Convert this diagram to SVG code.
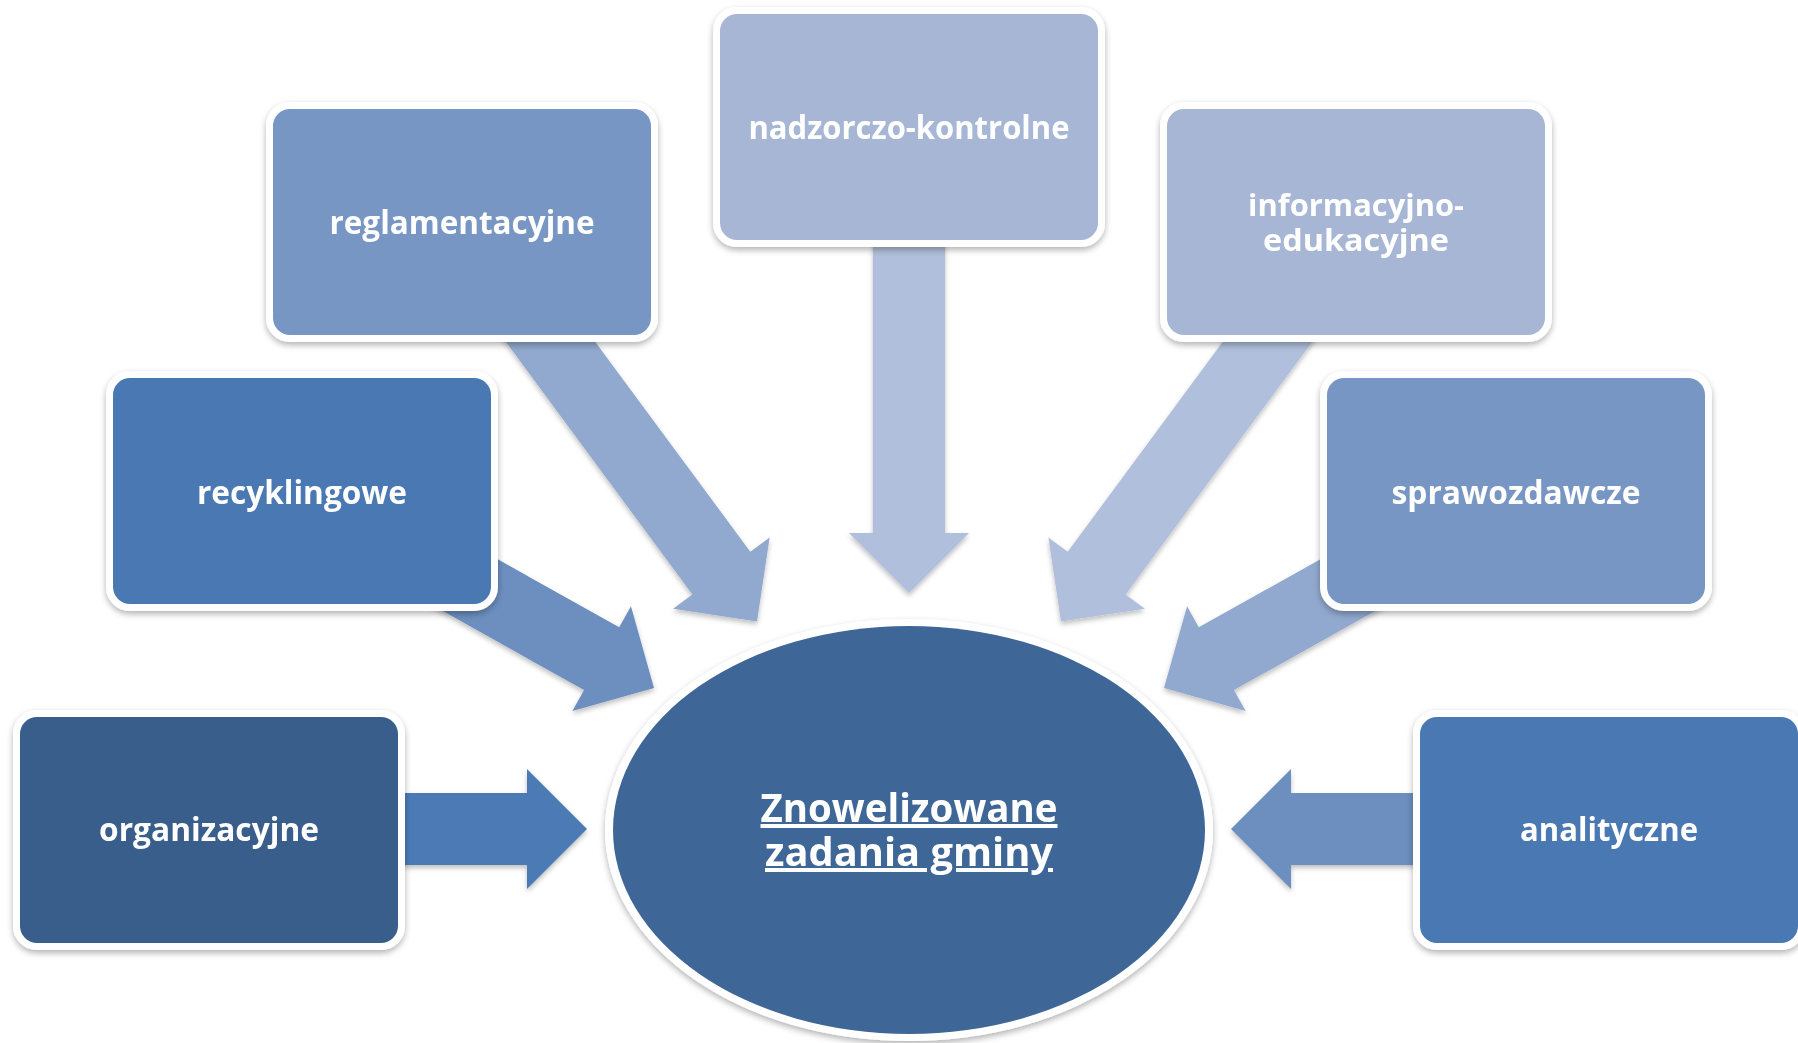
<svg xmlns="http://www.w3.org/2000/svg" width="1798" height="1043" viewBox="0 0 1798 1043">
  <style>
    .lbl { font-family: "Open Sans", "Liberation Sans", sans-serif; font-weight: 700; font-size: 32px; fill: #ffffff; text-anchor: middle; }
    .two { font-size: 30px; }
    .main { font-family: "Open Sans", "Liberation Sans", sans-serif; font-weight: 700; font-size: 40px; fill: #ffffff; text-anchor: middle; text-decoration: underline; }
    .frame { fill: #ffffff; filter: url(#sh); }
    .c1 { fill: #3a5e8c; }
    .c2 { fill: #4a78b2; }
    .c3 { fill: #7896c3; }
    .c4 { fill: #a7b6d5; }
    .a1 { fill: #4b7ab4; }
    .a2 { fill: #6c8fbf; }
    .a3 { fill: #91a9ce; }
    .a4 { fill: #b0bfdb; }
  </style>
  <defs>
    <filter id="sh" x="-10%" y="-10%" width="120%" height="130%">
      <feDropShadow dx="0" dy="3" stdDeviation="3" flood-color="#000000" flood-opacity="0.3"/>
    </filter>
    <filter id="ash" x="-10%" y="-20%" width="120%" height="140%">
      <feDropShadow dx="0" dy="3" stdDeviation="2.5" flood-color="#000000" flood-opacity="0.25"/>
    </filter>
  </defs>
  <rect width="1798" height="1043" fill="#ffffff"/>

  <g id="connectors" filter="url(#ash)">
    <path class="a1" transform="translate(587,829) rotate(0)" d="M-378,-36 L-60,-36 L-60,-60 L0,0 L-60,60 L-60,36 L-378,36 Z"/>
    <path class="a2" transform="translate(1231,829) rotate(180)" d="M-378,-36 L-60,-36 L-60,-60 L0,0 L-60,60 L-60,36 L-378,36 Z"/>
    <path class="a2" transform="translate(654,688) rotate(29.24)" d="M-403,-36 L-60,-36 L-60,-60 L0,0 L-60,60 L-60,36 L-403,36 Z"/>
    <path class="a3" transform="translate(1164,688) rotate(150.76)" d="M-403,-36 L-60,-36 L-60,-60 L0,0 L-60,60 L-60,36 L-403,36 Z"/>
    <path class="a3" transform="translate(757,621.5) rotate(53.56)" d="M-497,-36 L-60,-36 L-60,-60 L0,0 L-60,60 L-60,36 L-497,36 Z"/>
    <path class="a4" transform="translate(1061,621.5) rotate(126.44)" d="M-497,-36 L-60,-36 L-60,-60 L0,0 L-60,60 L-60,36 L-497,36 Z"/>
    <path class="a4" transform="translate(909,593) rotate(90)" d="M-465,-36 L-60,-36 L-60,-60 L0,0 L-60,60 L-60,36 L-465,36 Z"/>
  </g>

  <g id="center">
    <ellipse cx="909" cy="830" rx="304" ry="211" fill="#ffffff" filter="url(#sh)"/>
    <ellipse cx="909" cy="830" rx="296" ry="204" fill="#3e6696"/>
    <text class="main"><tspan x="909" y="822" textLength="297" lengthAdjust="spacingAndGlyphs">Znowelizowane</tspan><tspan x="909" y="866" textLength="288" lengthAdjust="spacingAndGlyphs">zadania gminy</tspan></text>
  </g>

  <g id="nadzorczo">
    <rect class="frame" x="713" y="7" width="392" height="240" rx="24"/>
    <rect class="c4" x="720" y="14" width="378" height="226" rx="17"/>
    <text class="lbl" x="909" y="139" textLength="321" lengthAdjust="spacingAndGlyphs">nadzorczo-kontrolne</text>
  </g>

  <g id="reglamentacyjne">
    <rect class="frame" x="266" y="102" width="392" height="240" rx="24"/>
    <rect class="c3" x="273" y="109" width="378" height="226" rx="17"/>
    <text class="lbl" x="462" y="234" textLength="265" lengthAdjust="spacingAndGlyphs">reglamentacyjne</text>
  </g>

  <g id="informacyjno">
    <rect class="frame" x="1160" y="102" width="392" height="240" rx="24"/>
    <rect class="c4" x="1167" y="109" width="378" height="226" rx="17"/>
    <text class="lbl two"><tspan x="1356" y="216" textLength="216" lengthAdjust="spacingAndGlyphs">informacyjno-</tspan><tspan x="1356" y="251" textLength="186" lengthAdjust="spacingAndGlyphs">edukacyjne</tspan></text>
  </g>

  <g id="recyklingowe">
    <rect class="frame" x="106" y="371" width="392" height="240" rx="24"/>
    <rect class="c2" x="113" y="378" width="378" height="226" rx="17"/>
    <text class="lbl" x="302" y="504" textLength="210" lengthAdjust="spacingAndGlyphs">recyklingowe</text>
  </g>

  <g id="sprawozdawcze">
    <rect class="frame" x="1320" y="371" width="392" height="240" rx="24"/>
    <rect class="c3" x="1327" y="378" width="378" height="226" rx="17"/>
    <text class="lbl" x="1516" y="504" textLength="249" lengthAdjust="spacingAndGlyphs">sprawozdawcze</text>
  </g>

  <g id="organizacyjne">
    <rect class="frame" x="13" y="710" width="392" height="240" rx="24"/>
    <rect class="c1" x="20" y="717" width="378" height="226" rx="17"/>
    <text class="lbl" x="209" y="841" textLength="220" lengthAdjust="spacingAndGlyphs">organizacyjne</text>
  </g>

  <g id="analityczne">
    <rect class="frame" x="1413" y="710" width="392" height="240" rx="24"/>
    <rect class="c2" x="1420" y="717" width="378" height="226" rx="17"/>
    <text class="lbl" x="1609" y="841" textLength="178" lengthAdjust="spacingAndGlyphs">analityczne</text>
  </g>
</svg>
